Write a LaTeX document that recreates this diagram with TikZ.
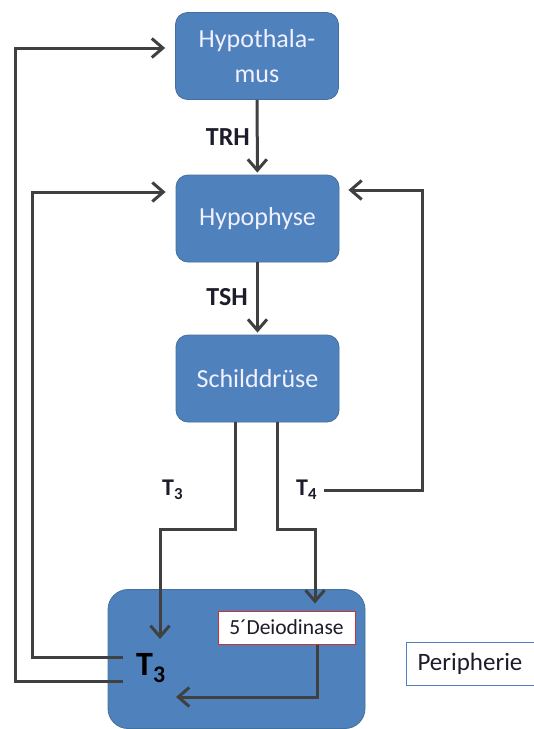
\documentclass[tikz,border=0pt]{standalone}
\usepackage{fontspec}
\setmainfont{Carlito}
\usetikzlibrary{arrows.meta}
\definecolor{boxblue}{HTML}{4F81BD}
\definecolor{boxedge}{HTML}{41719C}
\definecolor{linegray}{HTML}{404040}
\definecolor{darktext}{HTML}{1C1C2A}
\definecolor{enzymered}{HTML}{D03030}
\begin{document}
\begin{tikzpicture}[x=1pt,y=-1pt,
  organ/.style={draw=boxedge, line width=0.8pt, fill=boxblue, rounded corners=12pt,
    minimum width=163pt, minimum height=87pt, text=white!94!blue, align=center,
    inner sep=0pt, font=\fontsize{26}{35}\selectfont},
  region/.style={draw=boxedge, line width=0.8pt, fill=boxblue, rounded corners=20pt,
    minimum width=257pt, minimum height=139pt, inner sep=0pt},
  enzyme/.style={draw=enzymered, line width=1pt, fill=white, minimum width=137pt,
    minimum height=33pt, inner sep=0pt, text=darktext, font=\fontsize{21.5}{22}\selectfont},
  label/.style={draw=boxblue, line width=1pt, fill=white, minimum height=43pt,
    text width=150pt, align=left, inner xsep=11pt, inner ysep=0pt, text=darktext,
    font=\fontsize{25}{28}\selectfont},
  hormone/.style={inner sep=0pt, text=darktext, font=\bfseries\fontsize{26}{28}\selectfont},
  bigT/.style={inner sep=0pt, text=black, font=\bfseries\fontsize{34}{36}\selectfont},
  link/.style={draw=linegray, line width=3pt},
  flow/.style={link, -{Straight Barb[length=11pt,width=19pt,line width=3pt]}}
]
\useasboundingbox (0,0) rectangle (534,729);
\clip (0,0) rectangle (534,729);

% organs of the control loop
\node[organ] (hth) at (257,56) {Hypothala-\\mus};
\node[organ] (hyp) at (257.5,218.5) {Hypophyse};
\node[organ] (sd)  at (257.5,378.5) {Schilddrüse};

% peripheral tissue with the deiodinase
\node[region] (peri) at (236.5,659) {};
\node[enzyme] (dei) at (286.5,627.5) {5´Deiodinase};
\node[bigT, anchor=west] (t3) at (136,668) {T\textsubscript{3}};
\node[label, anchor=west] (plab) at (406,663.5) {Peripherie};

% hormone labels
\node[hormone, anchor=east] (trh) at (250,137) {TRH};
\node[hormone, anchor=east] (tsh) at (248,297) {TSH};
\node[hormone, anchor=west, font=\bfseries\fontsize{24}{26}\selectfont] (t3s) at (162,490) {T\textsubscript{3}};
\node[hormone, anchor=west, font=\bfseries\fontsize{24}{26}\selectfont] (t4s) at (296,490) {T\textsubscript{4}};

% junction points of the routed connectors
\coordinate (j3) at (160,529);
\coordinate (j4) at (315,529);
\coordinate (t3in) at (160,639);
\coordinate (t3back) at (176,697);
\coordinate (outerx) at (15,0);
\coordinate (innerx) at (32,0);
\coordinate (t4x) at (422,0);

% stimulation chain
\draw[flow, shorten >=2pt] (hth) -- (hyp);
\draw[flow, shorten >=2pt] (hyp) -- (sd);

% thyroid output
\draw[flow] ([xshift=-22.5pt]sd.south) |- (j3) -- (t3in);
\draw[flow, shorten >=7pt] ([xshift=19.5pt]sd.south) |- (j4) -- (j4 |- dei.north);
\draw[flow] ([xshift=30.5pt]dei.south) |- (t3back);

% feedback loops
\draw[flow, shorten >=9pt] ([xshift=7pt]t4s.east) -| (t4x |- 0,190) -- ([yshift=28.5pt]hyp.east);
\draw[flow, shorten >=10pt] ([xshift=-13pt,yshift=11pt]t3.west) -- (innerx |- 0,657) |- ([yshift=26.5pt]hyp.west);
\draw[flow, shorten >=10pt] ([xshift=-13pt,yshift=-13pt]t3.west) -- (outerx |- 0,681) |- ([yshift=8pt]hth.west);
\end{tikzpicture}
\end{document}
